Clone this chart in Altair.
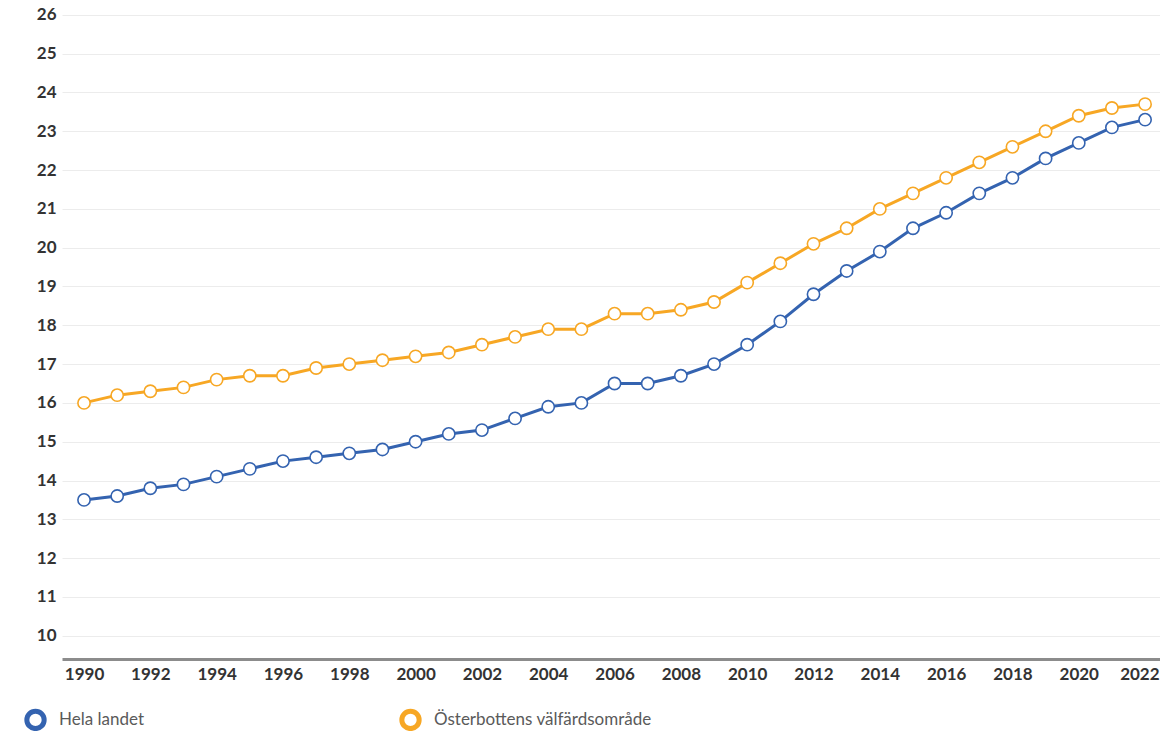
import altair as alt
import pandas as pd

years = list(range(1990, 2023))
hela_landet = [13.5, 13.6, 13.8, 13.9, 14.1, 14.3, 14.5, 14.6, 14.7, 14.8, 15.0,
               15.2, 15.3, 15.6, 15.9, 16.0, 16.5, 16.5, 16.7, 17.0, 17.5, 18.1,
               18.8, 19.4, 19.9, 20.5, 20.9, 21.4, 21.8, 22.3, 22.7, 23.1, 23.3]
osterbotten = [16.0, 16.2, 16.3, 16.4, 16.6, 16.7, 16.7, 16.9, 17.0, 17.1, 17.2,
               17.3, 17.5, 17.7, 17.9, 17.9, 18.3, 18.3, 18.4, 18.6, 19.1, 19.6,
               20.1, 20.5, 21.0, 21.4, 21.8, 22.2, 22.6, 23.0, 23.4, 23.6, 23.7]
series_names = ["Hela landet", "Österbottens välfärdsområde"]
series_colors = ["#3463b0", "#f7a724"]
x_ticks = list(range(1990, 2023, 2))
y_ticks = list(range(10, 27))

rows = []
for name, vals in zip(series_names, [hela_landet, osterbotten]):
    for yr, v in zip(years, vals):
        rows.append({"year": yr, "value": v, "series": name})
df = pd.DataFrame(rows)

FONT = "Lato"

x = alt.X("year:Q",
          scale=alt.Scale(domain=[1989.336, 2022.45], nice=False, zero=False),
          axis=alt.Axis(values=x_ticks, format="d", title=None, grid=False,
                        ticks=False, domain=True, domainColor="#8c8c8c",
                        domainWidth=3, labelFont=FONT, labelFontSize=17,
                        labelFontWeight="bold", labelColor="#333333",
                        labelPadding=7, labelFlush=16, labelFlushOffset=14))
y = alt.Y("value:Q",
          scale=alt.Scale(domain=[9.4, 26.1], nice=False, zero=False),
          axis=alt.Axis(values=y_ticks, title=None, grid=True, gridColor="#ececec",
                        gridWidth=1, ticks=False, domain=False, labelFont=FONT,
                        labelFontSize=17, labelFontWeight="bold",
                        labelColor="#333333", labelPadding=6))
color = alt.Color("series:N",
                  scale=alt.Scale(domain=series_names, range=series_colors),
                  legend=alt.Legend(title=None, orient="none", direction="horizontal",
                                    legendX=-38, legendY=697, padding=0,
                                    symbolType="circle", symbolSize=300,
                                    symbolStrokeWidth=5, symbolFillColor="white",
                                    labelFont=FONT, labelFontSize=17,
                                    labelColor="#5a5a5a", labelOffset=12,
                                    labelLimit=400, columnPadding=247))

base = alt.Chart(df)
lines = base.mark_line(strokeWidth=3).encode(x=x, y=y, color=color)
points = base.mark_point(filled=True, fill="white", size=150, strokeWidth=1.6,
                         opacity=1).encode(x=x, y=y,
                                           stroke=alt.Stroke("series:N",
                                                             scale=alt.Scale(domain=series_names, range=series_colors),
                                                             legend=None))

chart = alt.layer(lines, points).properties(
    width=1098, height=648,
    autosize=alt.AutoSizeParams(type="none"),
    padding={"left": 54, "top": 3, "right": 0, "bottom": 72},
).configure_view(stroke=None)

chart.save("out.html", embed_options={"renderer": "svg", "actions": False})
